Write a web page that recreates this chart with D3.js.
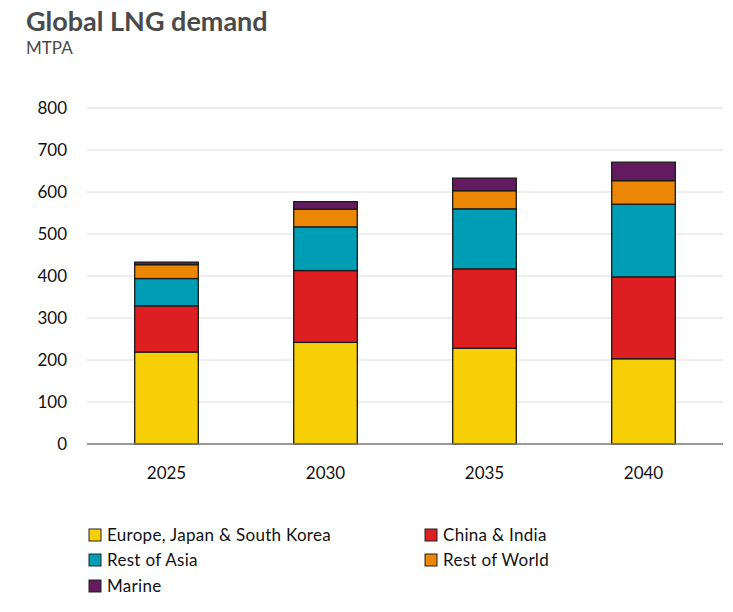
<!DOCTYPE html>
<html>
<head>
<meta charset="utf-8">
<script src="https://cdn.jsdelivr.net/npm/d3@7"></script>
<style>
  body { margin: 0; background: #fff; }
  svg { display: block; font-family: 'Lato', 'Noto Sans', sans-serif; }
</style>
</head>
<body>
<svg width="733" height="612"></svg>
<script>
// Global LNG demand, stacked bars
const years = ['2025', '2030', '2035', '2040'];
const seriesNames = ['Europe, Japan & South Korea', 'China & India', 'Rest of Asia', 'Rest of World', 'Marine'];
const europeJapanKorea = [219, 242, 228, 203];
const chinaIndia = [110, 171, 189, 195];
const restOfAsia = [65, 104, 143, 173];
const restOfWorld = [33, 42, 43, 56];
const marine = [6, 18, 30, 44];
const yTicks = [0, 100, 200, 300, 400, 500, 600, 700, 800];
const colors = ['#f7cf06', '#dd1f22', '#009eb4', '#eb8705', '#641a5e'];

const svg = d3.select('svg');
const margin = { top: 108, left: 87, right: 10, bottom: 168 };

const rows = years.map((y, i) => ({
  year: y,
  s0: europeJapanKorea[i],
  s1: chinaIndia[i],
  s2: restOfAsia[i],
  s3: restOfWorld[i],
  s4: marine[i]
}));
const keys = ['s0', 's1', 's2', 's3', 's4'];
const stacked = d3.stack().keys(keys)(rows);

const x = d3.scaleBand()
  .domain(years)
  .range([margin.left, 723])
  .paddingInner(0.6)
  .paddingOuter(0.3);

const y = d3.scaleLinear()
  .domain([0, 800])
  .range([444, margin.top]);

// gridlines
svg.append('g')
  .selectAll('line')
  .data(yTicks.filter(d => d > 0))
  .join('line')
  .attr('x1', margin.left)
  .attr('x2', 723)
  .attr('y1', d => y(d))
  .attr('y2', d => y(d))
  .attr('stroke', '#dcdcdc')
  .attr('stroke-width', 1);

// y tick labels
svg.append('g')
  .selectAll('text')
  .data(yTicks)
  .join('text')
  .attr('x', 67)
  .attr('y', d => y(d))
  .attr('dy', '0.35em')
  .attr('text-anchor', 'end')
  .attr('font-size', 17)
  .attr('fill', '#111')
  .text(d => d);

// bars
svg.append('g')
  .selectAll('g')
  .data(stacked)
  .join('g')
  .attr('fill', (d, i) => colors[i])
  .selectAll('rect')
  .data(d => d)
  .join('rect')
  .attr('x', d => x(d.data.year))
  .attr('width', x.bandwidth())
  .attr('y', d => y(d[1]))
  .attr('height', d => y(d[0]) - y(d[1]))
  .attr('stroke', '#1a1a1a')
  .attr('stroke-width', 1.3);

// x axis line
svg.append('line')
  .attr('x1', margin.left)
  .attr('x2', 723)
  .attr('y1', y(0))
  .attr('y2', y(0))
  .attr('stroke', '#777')
  .attr('stroke-width', 1.5);

// x labels
svg.append('g')
  .selectAll('text')
  .data(years)
  .join('text')
  .attr('x', d => x(d) + x.bandwidth() / 2)
  .attr('y', 479)
  .attr('text-anchor', 'middle')
  .attr('font-size', 17)
  .attr('fill', '#111')
  .text(d => d);

// title
svg.append('text')
  .attr('x', 26)
  .attr('y', 31)
  .attr('font-size', 27)
  .attr('font-weight', 'bold')
  .attr('fill', '#4a4a4a')
  .text('Global LNG demand');

svg.append('text')
  .attr('x', 26)
  .attr('y', 54)
  .attr('font-size', 17)
  .attr('fill', '#4a4a4a')
  .text('MTPA');

// legend
const legendPos = [
  [89, 535], [425, 535],
  [89, 560], [425, 560],
  [89, 586]
];
const legend = svg.append('g')
  .selectAll('g')
  .data(seriesNames)
  .join('g')
  .attr('transform', (d, i) => `translate(${legendPos[i][0]},${legendPos[i][1]})`);

legend.append('rect')
  .attr('x', 0)
  .attr('y', -6)
  .attr('width', 12)
  .attr('height', 12)
  .attr('fill', (d, i) => colors[i])
  .attr('stroke', '#222')
  .attr('stroke-width', 1);

legend.append('text')
  .attr('x', 18)
  .attr('dy', '0.35em')
  .attr('font-size', 17)
  .attr('letter-spacing', 0.3)
  .attr('fill', '#111')
  .text(d => d);
</script>
</body>
</html>
